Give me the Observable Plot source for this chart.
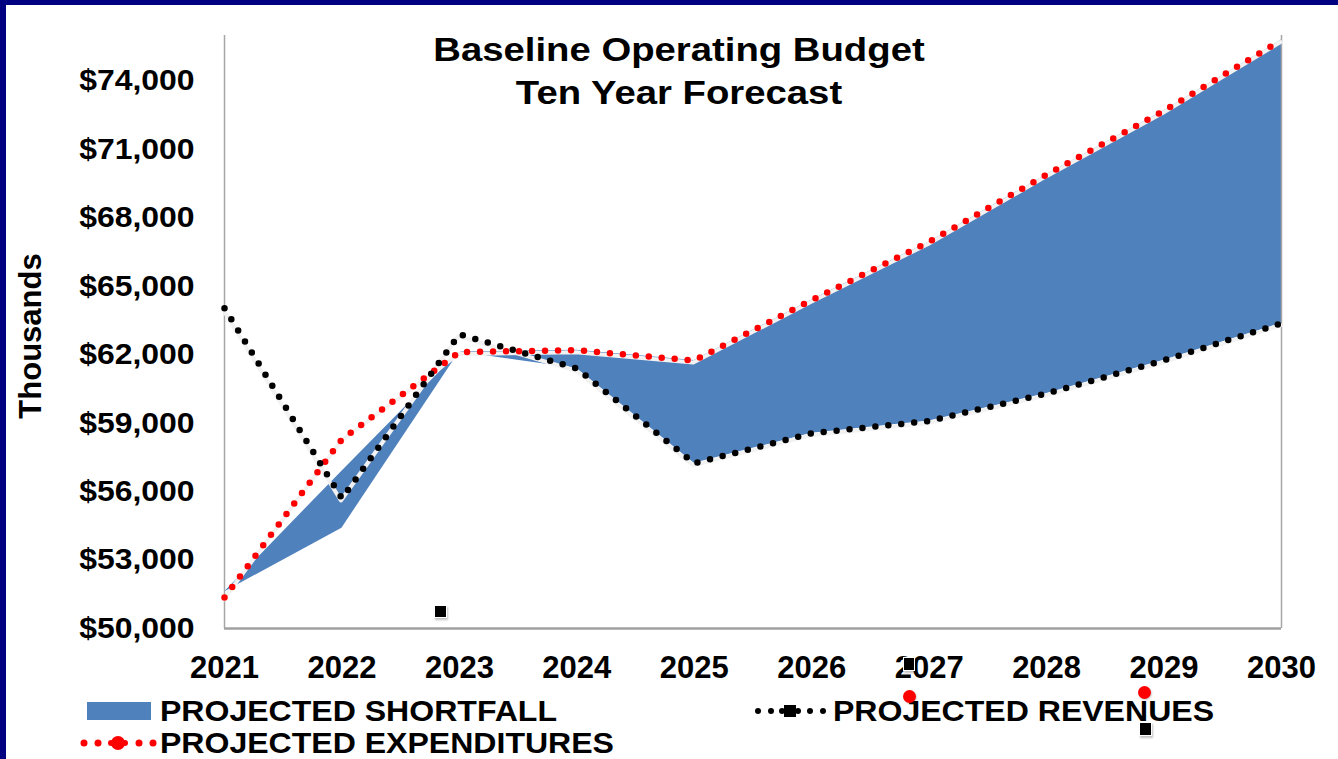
<!DOCTYPE html>
<html><head><meta charset="utf-8">
<script src="https://cdn.jsdelivr.net/npm/d3@7"></script>
<script src="https://cdn.jsdelivr.net/npm/@observablehq/plot@0.6"></script>
<style>
html,body{margin:0;padding:0;background:#fff;}
#wrap{position:relative;width:1338px;height:759px;overflow:hidden;background:#fff;font-family:"Liberation Sans",Arial,sans-serif;font-weight:bold;color:#000;}
#chart{position:absolute;left:0;top:0;}
.abs{position:absolute;white-space:nowrap;}
.navy{position:absolute;background:#000080;}
.title{left:679px;top:28px;font-size:33px;line-height:43px;text-align:center;transform:translateX(-50%) scaleX(1.16);}
.ylab{left:31px;top:336px;font-size:31px;transform:translate(-50%,-50%) rotate(-90deg);}
.leg{font-size:30px;line-height:30px;transform-origin:left center;transform:scaleX(1.068);}
.sq{position:absolute;background:#000;box-shadow:1px 2px 2px rgba(0,0,0,0.25);border:1px solid #fff;}
.rd{position:absolute;background:#ff0000;border-radius:50%;box-shadow:1px 1px 2px rgba(0,0,0,0.2);}
</style></head><body><div id="wrap"><div id="chart"></div></div>
<script>
// ---- data ----
const years = [2021, 2022, 2023, 2024, 2025, 2026, 2027, 2028, 2029, 2030];
const expenditures = [51360, 58300, 62120, 62200, 61750, 64400, 66950, 69900, 72700, 75800];
const revenues = [64040, 55700, 62900, 61400, 57240, 58560, 59100, 60300, 61760, 63380];
const shortfallTop = [51600, 56900, 62120, 62200, 61750, 64400, 66950, 69900, 72700, 75800];
const shortfallBottom = [51600, 54400, 62120, 61400, 57240, 58560, 59100, 60300, 61760, 63380];
const yTicks = [50000, 53000, 56000, 59000, 62000, 65000, 68000, 71000, 74000];
const titleLines = ["Baseline Operating Budget", "Ten Year Forecast"];
const yAxisLabel = "Thousands";
const legendLabels = {shortfall: "PROJECTED SHORTFALL", expenditures: "PROJECTED EXPENDITURES", revenues: "PROJECTED REVENUES"};

const blue = "#4f81bd", red = "#ff0000";
const rows = years.map((y, i) => ({year: y, exp: expenditures[i], rev: revenues[i], top: shortfallTop[i], bottom: shortfallBottom[i]}));
const fmt = d => "$" + d3.format(",")(d);

const plot = Plot.plot({
  width: 1338, height: 690,
  marginLeft: 224, marginRight: 57, marginTop: 35, marginBottom: 62,
  style: {background: "transparent", fontFamily: "'Liberation Sans', Arial, sans-serif"},
  x: {domain: [2021, 2030], label: null},
  y: {domain: [50000, 76000], label: null},
  marks: [
    Plot.areaY(rows, {x: "year", y1: "bottom", y2: "top", fill: blue}),
    Plot.ruleX([2021, 2030], {stroke: "#a6a6a6", strokeWidth: 1.5}),
    Plot.ruleY([50000], {stroke: "#a0a0a0", strokeWidth: 2.5}),
    Plot.line(rows, {x: "year", y: "exp", stroke: "#f2f2f2", strokeWidth: 4, dx: -1, dy: 2}),
    Plot.line(rows, {x: "year", y: "rev", stroke: "#f2f2f2", strokeWidth: 4, dx: -1, dy: 2}),
    Plot.line(rows, {x: "year", y: "exp", stroke: red, strokeWidth: 6.5, strokeDasharray: "0 13", strokeLinecap: "round"}),
    Plot.line(rows, {x: "year", y: "rev", stroke: "#000", strokeWidth: 6.5, strokeDasharray: "0 13", strokeLinecap: "round"}),
    Plot.axisX({ticks: years, tickFormat: d => String(d), tickSize: 0, tickPadding: 27, fontSize: 31, fontWeight: "bold", label: null}),
    Plot.axisY({ticks: yTicks, tickFormat: fmt, tickSize: 0, tickPadding: 30, fontSize: 29, fontWeight: "bold", label: null})
  ]
});
// the original's tick labels are slightly wider than the font's natural width
plot.querySelectorAll('g[aria-label="y-axis tick label"] text').forEach(t => {
  t.setAttribute("transform", (t.getAttribute("transform") || "") + " scale(1.1,1)");
});
document.getElementById("chart").appendChild(plot);

const wrap = document.getElementById("wrap");
function add(html) { wrap.insertAdjacentHTML("beforeend", html); }
// frame
add(`<div class="navy" style="left:0;top:0;width:1338px;height:5px"></div>`);
add(`<div class="navy" style="left:0;top:0;width:6px;height:759px"></div>`);
// title + axis label
add(`<div class="abs title">${titleLines.join("<br>")}</div>`);
add(`<div class="abs ylab">${yAxisLabel}</div>`);
// legend
add(`<div class="abs" style="left:87px;top:702px;width:64px;height:18px;background:${blue}"></div>`);
add(`<div class="abs leg" style="left:160px;top:696px">${legendLabels.shortfall}</div>`);
add(`<svg class="abs" style="left:78px;top:731px" width="80" height="24">
  <g fill="${red}"><circle cx="6" cy="12" r="3.5"/><circle cx="20" cy="12" r="3.5"/><circle cx="40" cy="12" r="7"/><circle cx="33" cy="12" r="3"/><circle cx="47" cy="12" r="3"/><circle cx="61" cy="12" r="3.5"/><circle cx="75" cy="12" r="3.5"/></g></svg>`);
add(`<div class="abs leg" style="left:160px;top:728px">${legendLabels.expenditures}</div>`);
add(`<svg class="abs" style="left:752px;top:699px" width="80" height="24">
  <g fill="#000"><circle cx="6" cy="12" r="3"/><circle cx="19" cy="12" r="3"/><circle cx="30" cy="12" r="3"/><rect x="32" y="6" width="12" height="12"/><circle cx="46" cy="12" r="3"/><circle cx="58" cy="12" r="3"/><circle cx="71" cy="12" r="3"/></g></svg>`);
add(`<div class="abs leg" style="left:833px;top:696px">${legendLabels.revenues}</div>`);
// stray legend markers visible in the original
add(`<div class="sq" style="left:434px;top:605px;width:11px;height:11px"></div>`);
add(`<div class="sq" style="left:903px;top:657px;width:10px;height:12px"></div>`);
add(`<div class="rd" style="left:903px;top:690px;width:13px;height:13px"></div>`);
add(`<div class="rd" style="left:1138px;top:686px;width:13px;height:13px"></div>`);
add(`<div class="sq" style="left:1139px;top:722px;width:11px;height:12px"></div>`);
</script></body></html>
